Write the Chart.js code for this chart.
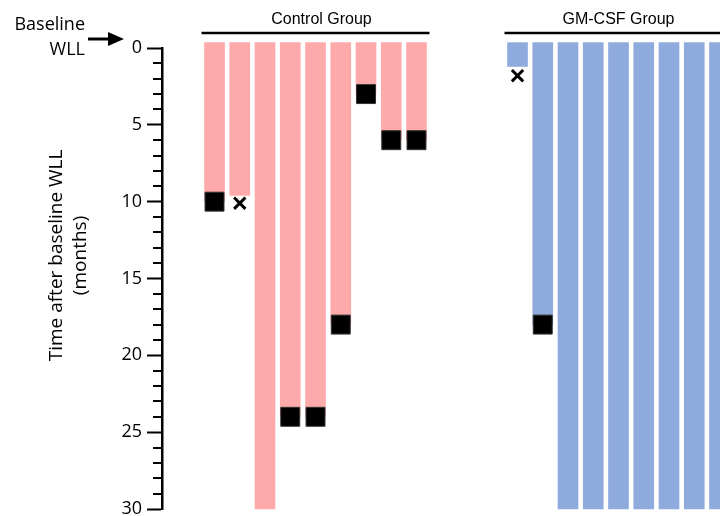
<!DOCTYPE html>
<html>
<head>
<meta charset="utf-8">
<title>Time after baseline WLL</title>
<script src="https://cdn.jsdelivr.net/npm/chart.js@4"></script>
<style>
  html, body { margin: 0; padding: 0; background: #fff; overflow: hidden; }
</style>
</head>
<body>
<canvas id="chart" width="720" height="516"></canvas>
<script>
// x slot of every patient bar (3 empty slots between the two groups)
const controlSlots = [0, 1, 2, 3, 4, 5, 6, 7, 8];
const gmSlots = [12, 13, 14, 15, 16, 17, 18, 19, 20];

// follow-up in months after baseline WLL
const controlMonths = [10, 9.6, 30, 24, 24, 18, 3, 6, 6];
const gmMonths = [1.2, 18, 30, 30, 30, 30, 30, 30, 30];

// black squares = event, x = censored
const controlEvents = [10, null, null, 24, 24, 18, 3, 6, 6];
const gmEvents = [null, 18, null, null, null, null, null, null, null];
const controlCensored = [null, 10.1, null, null, null, null, null, null, null];
const gmCensored = [1.8, null, null, null, null, null, null, null, null];

const yTickValues = [0, 5, 10, 15, 20, 25, 30];
const groupLabels = ['Control Group', 'GM-CSF Group'];
const yTitle = ['Time after baseline WLL', '(months)'];

const PINK = '#FFAAAA';
const BLUE = '#8FAADC';
const BAR_START = -0.35;   // bars start a little above the 0 line

function points(slots, vals) {
  const out = [];
  slots.forEach((x, i) => { if (vals[i] !== null) out.push({ x: x, y: vals[i] }); });
  return out;
}
function bars(slots, vals) {
  return slots.map((x, i) => ({ x: x, y: [BAR_START, vals[i]] }));
}

// minor ticks every month, shorter than the major ones
const minorTicks = {
  id: 'minorTicks',
  afterDraw(chart) {
    const s = chart.scales.y, ctx = chart.ctx;
    ctx.save();
    ctx.strokeStyle = '#000';
    ctx.lineWidth = 2;
    for (let v = s.min; v <= s.max; v++) {
      if (yTickValues.includes(v)) continue;
      const y = Math.round(s.getPixelForValue(v));
      ctx.beginPath();
      ctx.moveTo(s.right - 9, y);
      ctx.lineTo(s.right, y);
      ctx.stroke();
    }
    ctx.restore();
  }
};

// group headers, y title and the "Baseline WLL" arrow
const decorations = {
  id: 'decorations',
  afterDraw(chart) {
    const ctx = chart.ctx, xs = chart.scales.x, ys = chart.scales.y;
    const top = chart.chartArea.top;
    ctx.save();

    // group headers
    const groups = [controlSlots, gmSlots];
    groups.forEach((slots, g) => {
      const x0 = xs.getPixelForValue(slots[0]) - 13;
      const x1 = xs.getPixelForValue(slots[slots.length - 1]) + 13;
      ctx.strokeStyle = '#000';
      ctx.lineWidth = 2.3;
      ctx.beginPath();
      ctx.moveTo(x0, top - 15);
      ctx.lineTo(x1, top - 15);
      ctx.stroke();
      ctx.fillStyle = '#000';
      ctx.font = '16px "Liberation Sans", Arial, sans-serif';
      ctx.textAlign = 'center';
      ctx.textBaseline = 'alphabetic';
      ctx.fillText(groupLabels[g], (x0 + x1) / 2 + (g === 0 ? 6 : 0), top - 24);
    });

    // y axis title
    ctx.font = '19px "Open Sans", sans-serif';
    ctx.textAlign = 'center';
    ctx.textBaseline = 'middle';
    const cy = ys.top + (ys.bottom - ys.top) * 0.45;
    yTitle.forEach((line, i) => {
      ctx.save();
      ctx.translate(57 + i * 24, cy);
      ctx.rotate(-Math.PI / 2);
      ctx.fillText(line, 0, 0);
      ctx.restore();
    });

    // Baseline WLL + arrow pointing at 0
    const y0 = ys.getPixelForValue(0) - 9;
    const tip = ys.right - 38;
    ctx.font = '18px "Open Sans", sans-serif';
    ctx.textAlign = 'right';
    ctx.textBaseline = 'alphabetic';
    ctx.fillText('Baseline', 85, y0 - 9);
    ctx.fillText('WLL', 85, y0 + 16);
    ctx.lineWidth = 3;
    ctx.beginPath();
    ctx.moveTo(88, y0);
    ctx.lineTo(tip - 12, y0);
    ctx.stroke();
    ctx.beginPath();
    ctx.moveTo(tip, y0);
    ctx.lineTo(tip - 16, y0 - 7);
    ctx.lineTo(tip - 16, y0 + 7);
    ctx.closePath();
    ctx.fill();

    ctx.restore();
  }
};

new Chart(document.getElementById('chart'), {
  type: 'bar',
  data: {
    datasets: [
      {
        label: 'Control Group',
        data: bars(controlSlots, controlMonths),
        backgroundColor: PINK,
        barThickness: 20,
        grouped: false,
        clip: false,
        order: 2
      },
      {
        label: 'GM-CSF Group',
        data: bars(gmSlots, gmMonths),
        backgroundColor: BLUE,
        barThickness: 20,
        grouped: false,
        clip: false,
        order: 2
      },
      {
        type: 'scatter',
        label: 'Event',
        data: points(controlSlots, controlEvents).concat(points(gmSlots, gmEvents)),
        pointStyle: 'rect',
        pointRadius: 13.4,
        backgroundColor: '#000',
        borderColor: '#333',
        borderWidth: 1,
        order: 0
      },
      {
        type: 'scatter',
        label: 'Censored',
        data: points(controlSlots, controlCensored).concat(points(gmSlots, gmCensored)),
        pointStyle: 'crossRot',
        pointRadius: 8,
        borderColor: '#000',
        borderWidth: 3,
        order: 0
      }
    ]
  },
  options: {
    responsive: false,
    animation: false,
    devicePixelRatio: 1,
    layout: { autoPadding: false, padding: { top: 48, bottom: 7, left: 0, right: 0 } },
    plugins: { legend: { display: false }, tooltip: { enabled: false } },
    scales: {
      x: { type: 'linear', min: -2.08, max: 20.02, offset: false, display: false },
      y: {
        reverse: true,
        min: 0,
        max: 30,
        afterFit(s) { s.width = 162; s.paddingTop = 0; s.paddingBottom = 0; },
        afterBuildTicks(s) { s.ticks = yTickValues.map(v => ({ value: v })); },
        ticks: {
          padding: 5,
          color: '#000',
          font: { family: 'Open Sans', size: 18 }
        },
        grid: {
          drawOnChartArea: false,
          drawTicks: true,
          tickLength: 15,
          tickWidth: 2,
          tickColor: '#000'
        },
        border: { display: true, color: '#000', width: 2.5 }
      }
    }
  },
  plugins: [minorTicks, decorations]
});
</script>
</body>
</html>
